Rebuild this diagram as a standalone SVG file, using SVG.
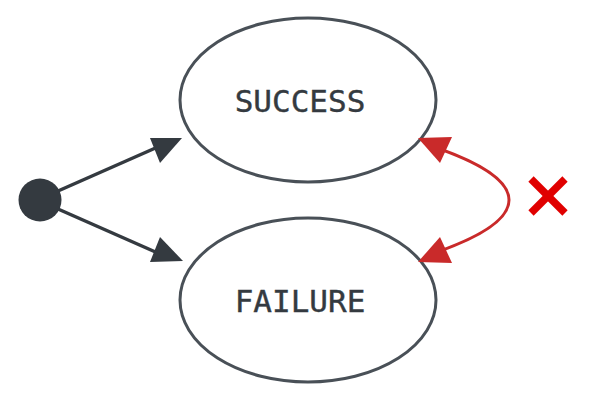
<svg xmlns="http://www.w3.org/2000/svg" width="597" height="400" viewBox="0 0 597 400">
<style>
.state{fill:#fff;stroke:#495057;stroke-width:3}
.lbl{font-family:"DejaVu Sans Mono",monospace;font-size:31px;fill:#343a40;text-anchor:middle;stroke:#343a40;stroke-width:0.4}
.edge{fill:none;stroke:#343a40;stroke-width:3.5}
.bad{fill:none;stroke:#c92a2a;stroke-width:3}
</style>
<g id="start"><circle cx="40" cy="200" r="21.5" fill="#343a40"/></g>
<g id="success"><ellipse class="state" cx="308" cy="100" rx="128" ry="82"/><text class="lbl" x="300" y="112">SUCCESS</text></g>
<g id="failure"><ellipse class="state" cx="308" cy="300" rx="128" ry="82"/><text class="lbl" x="300" y="312">FAILURE</text></g>
<g id="connectors">
<path class="edge" d="M58,191 L160,146"/>
<polygon points="182,138 160,163 150,138" fill="#343a40"/>
<path class="edge" d="M58,209 L160,254"/>
<polygon points="183,261 150,262 160,237" fill="#343a40"/>
<path class="bad" d="M440,149 C532,182 532,218 440,251"/>
<polygon points="418,138 452,137 440,163" fill="#c92a2a"/>
<polygon points="418,262 452,263 440,237" fill="#c92a2a"/>
</g>
<g id="cross" stroke="#e00000" stroke-width="7.5"><line x1="531" y1="179" x2="565" y2="213"/><line x1="565" y1="179" x2="531" y2="213"/></g>
</svg>
